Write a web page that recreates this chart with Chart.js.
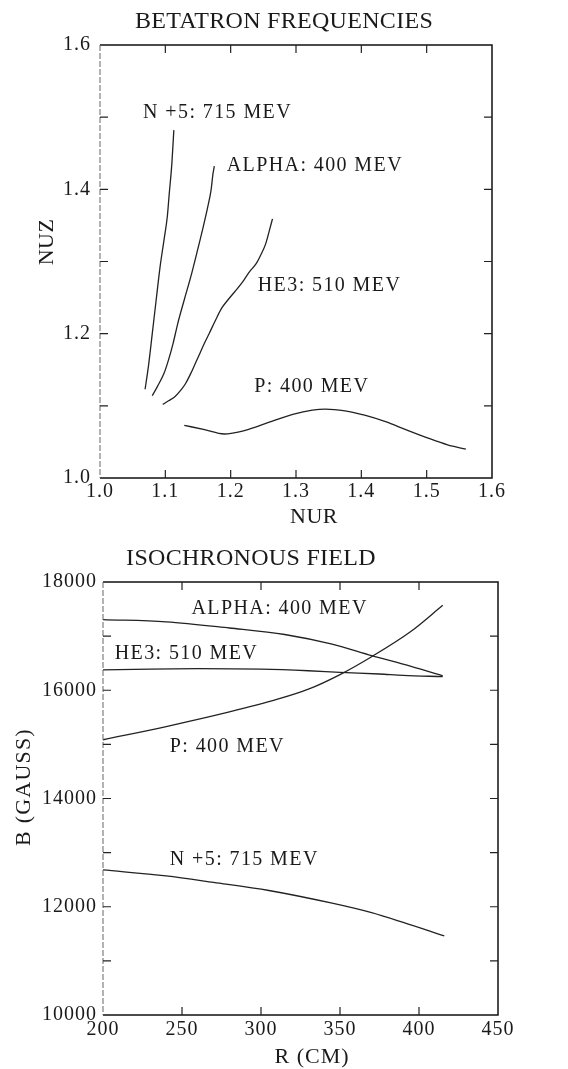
<!DOCTYPE html>
<html>
<head>
<meta charset="utf-8">
<script src="https://cdn.jsdelivr.net/npm/chart.js@4"></script>
<style>
html, body { margin: 0; padding: 0; background: #fff; }
#top { width: 568px; height: 530px; }
#bot { width: 568px; height: 539px; }
canvas { display: block; }
</style>
</head>
<body>
<div id="top"><canvas id="betatron"></canvas></div>
<div id="bot"><canvas id="field"></canvas></div>
<script>
// Betatron frequencies (NUR, NUZ)
const nurN5 = [1.069, 1.074, 1.080, 1.086, 1.092, 1.098, 1.103, 1.106, 1.110, 1.113];
const nuzN5 = [1.123, 1.154, 1.200, 1.247, 1.293, 1.330, 1.362, 1.394, 1.436, 1.482];
const nurAlpha = [1.080, 1.088, 1.098, 1.105, 1.112, 1.119, 1.129, 1.139, 1.148, 1.158, 1.165, 1.170, 1.173, 1.175];
const nuzAlpha = [1.114, 1.127, 1.145, 1.164, 1.187, 1.214, 1.247, 1.279, 1.311, 1.348, 1.376, 1.399, 1.422, 1.432];
const nurHe3 = [1.096, 1.105, 1.115, 1.124, 1.131, 1.139, 1.146, 1.153, 1.160, 1.167, 1.177, 1.186, 1.196, 1.208, 1.220, 1.229, 1.239, 1.246, 1.253, 1.259, 1.264];
const nuzHe3 = [1.102, 1.107, 1.113, 1.122, 1.131, 1.145, 1.159, 1.173, 1.187, 1.200, 1.219, 1.235, 1.247, 1.260, 1.274, 1.286, 1.297, 1.309, 1.323, 1.342, 1.359];
const nurP = [1.129, 1.160, 1.190, 1.222, 1.258, 1.295, 1.325, 1.345, 1.375, 1.405, 1.437, 1.468, 1.500, 1.532, 1.560];
const nuzP = [1.073, 1.067, 1.061, 1.066, 1.077, 1.088, 1.094, 1.0955, 1.093, 1.087, 1.078, 1.067, 1.056, 1.046, 1.040];

// Isochronous field (R in cm, B in gauss)
const rAlpha = [200, 240, 280, 315, 345, 370, 395, 415];
const bAlpha = [17305, 17265, 17150, 17030, 16850, 16640, 16440, 16265];
const rHe3 = [200, 230, 260, 300, 330, 350, 375, 390, 415];
const bHe3 = [16375, 16392, 16400, 16390, 16360, 16330, 16300, 16275, 16252];
const rP = [200, 240, 280, 310, 330, 350, 370, 395, 415];
const bP = [15085, 15330, 15600, 15830, 16020, 16290, 16620, 17090, 17570];
const rN5 = [200, 240, 270, 305, 345, 370, 390, 416];
const bN5 = [12680, 12570, 12450, 12300, 12065, 11890, 11710, 11460];

// small tick marks drawn inside the frame
const nurMarks = [1.1, 1.2, 1.3, 1.4, 1.5];
const nuzMarks = [1.1, 1.2, 1.3, 1.4, 1.5];
const rMarks = [250, 300, 350, 400];
const bMarks = [11000, 12000, 13000, 14000, 15000, 16000, 17000];

const INK = '#1a1a1a';
const SERIF = 'Liberation Serif';

function pts(xs, ys) {
    return xs.map((v, i) => ({ x: v, y: ys[i] }));
}

function line(xs, ys) {
    return {
        data: pts(xs, ys),
        showLine: true,
        borderColor: '#222',
        borderWidth: 1.3,
        pointRadius: 0,
        cubicInterpolationMode: 'monotone',
        fill: false
    };
}

// frame with inward ticks
const frame = {
    id: 'frame',
    afterDatasetsDraw(chart, args, opts) {
        const { ctx, chartArea: a, scales: { x, y } } = chart;
        ctx.save();
        ctx.strokeStyle = '#111';
        ctx.lineWidth = 1.5;
        ctx.beginPath();
        ctx.moveTo(a.left, a.top);
        ctx.lineTo(a.right, a.top);
        ctx.lineTo(a.right, a.bottom);
        ctx.lineTo(a.left, a.bottom);
        ctx.stroke();
        // left edge is faint in the original
        ctx.strokeStyle = '#666';
        ctx.lineWidth = 1;
        ctx.setLineDash([6, 2]);
        ctx.beginPath();
        ctx.moveTo(a.left, a.top);
        ctx.lineTo(a.left, a.bottom);
        ctx.stroke();
        ctx.setLineDash([]);
        ctx.strokeStyle = '#222';
        ctx.lineWidth = 1.2;
        const len = 8;
        ctx.beginPath();
        opts.xMarks.forEach(v => {
            const px = x.getPixelForValue(v);
            ctx.moveTo(px, a.top); ctx.lineTo(px, a.top + len);
            ctx.moveTo(px, a.bottom); ctx.lineTo(px, a.bottom - len);
        });
        opts.yMarks.forEach(v => {
            const py = y.getPixelForValue(v);
            ctx.moveTo(a.right, py); ctx.lineTo(a.right - len, py);
            ctx.moveTo(a.left, py); ctx.lineTo(a.left + len, py);
        });
        ctx.stroke();
        ctx.restore();
    }
};

// titles and curve names
const notes = {
    id: 'notes',
    beforeDraw(chart) {
        chart.ctx.letterSpacing = '1px'; // tick labels
    },
    afterDraw(chart, args, opts) {
        const { ctx, scales: { x, y } } = chart;
        ctx.save();
        ctx.fillStyle = INK;
        ctx.textBaseline = 'middle';
        // curve labels, placed in data units
        ctx.font = '20px "' + SERIF + '"';
        ctx.letterSpacing = '1.4px';
        ctx.textAlign = 'left';
        opts.labels.forEach(t => {
            ctx.fillText(t.text, x.getPixelForValue(t.x), y.getPixelForValue(t.y));
        });
        // titles, placed in canvas pixels
        ctx.textAlign = 'center';
        opts.titles.forEach(t => {
            ctx.font = t.size + 'px "' + SERIF + '"';
            ctx.letterSpacing = t.spacing + 'px';
            ctx.save();
            ctx.translate(t.px, t.py);
            if (t.rot) ctx.rotate(-Math.PI / 2);
            ctx.fillText(t.text, 0, 0);
            ctx.restore();
        });
        ctx.restore();
        ctx.letterSpacing = '0px';
    }
};

function axis(min, max, step, fmt, pad, fit) {
    return {
        type: 'linear',
        min: min,
        max: max,
        ticks: {
            stepSize: step,
            callback: fmt,
            color: INK,
            padding: pad,
            font: { family: SERIF, size: 20 }
        },
        grid: { display: false, drawTicks: false },
        border: { display: false },
        afterFit: fit
    };
}

const oneDecimal = v => Number(v).toFixed(1);
const plain = v => String(Math.round(v));

new Chart(document.getElementById('betatron'), {
    type: 'scatter',
    data: {
        datasets: [
            line(nurN5, nuzN5),
            line(nurAlpha, nuzAlpha),
            line(nurHe3, nuzHe3),
            line(nurP, nuzP)
        ]
    },
    options: {
        responsive: true,
        maintainAspectRatio: false,
        animation: false,
        layout: { padding: { top: 45, right: 76, left: 0, bottom: 0 } },
        scales: {
            x: axis(1.0, 1.6, 0.1, oneDecimal, 2, s => { s.height = 52; }),
            y: axis(1.0, 1.6, 0.2, oneDecimal, 9, s => { s.width = 100; })
        },
        plugins: {
            legend: { display: false },
            tooltip: { enabled: false },
            frame: { xMarks: nurMarks, yMarks: nuzMarks },
            notes: {
                labels: [
                    { text: 'N +5: 715 MEV', x: 1.066, y: 1.506 },
                    { text: 'ALPHA: 400 MEV', x: 1.194, y: 1.433 },
                    { text: 'HE3: 510 MEV', x: 1.2415, y: 1.267 },
                    { text: 'P: 400 MEV', x: 1.236, y: 1.126 }
                ],
                titles: [
                    { text: 'BETATRON FREQUENCIES', px: 284, py: 22, size: 24, spacing: 0.3 },
                    { text: 'NUR', px: 314, py: 517, size: 22, spacing: 0.5 },
                    { text: 'NUZ', px: 47, py: 242, size: 22, spacing: 0.5, rot: true }
                ]
            }
        }
    },
    plugins: [frame, notes]
});

new Chart(document.getElementById('field'), {
    type: 'scatter',
    data: {
        datasets: [
            line(rAlpha, bAlpha),
            line(rHe3, bHe3),
            line(rP, bP),
            line(rN5, bN5)
        ]
    },
    options: {
        responsive: true,
        maintainAspectRatio: false,
        animation: false,
        layout: { padding: { top: 52, right: 70, left: 0, bottom: 0 } },
        scales: {
            x: axis(200, 450, 50, plain, 3, s => { s.height = 54; }),
            y: axis(10000, 18000, 2000, plain, 6, s => { s.width = 103; })
        },
        plugins: {
            legend: { display: false },
            tooltip: { enabled: false },
            frame: { xMarks: rMarks, yMarks: bMarks },
            notes: {
                labels: [
                    { text: 'ALPHA: 400 MEV', x: 256, y: 17509 },
                    { text: 'HE3: 510 MEV', x: 207.4, y: 16681 },
                    { text: 'P: 400 MEV', x: 242.3, y: 14963 },
                    { text: 'N +5: 715 MEV', x: 242.3, y: 12867 }
                ],
                titles: [
                    { text: 'ISOCHRONOUS FIELD', px: 251, py: 29, size: 24, spacing: 0.3 },
                    { text: 'R (CM)', px: 312, py: 527, size: 22, spacing: 1 },
                    { text: 'B (GAUSS)', px: 24, py: 257, size: 22, spacing: 1.2, rot: true }
                ]
            }
        }
    },
    plugins: [frame, notes]
});
</script>
</body>
</html>
